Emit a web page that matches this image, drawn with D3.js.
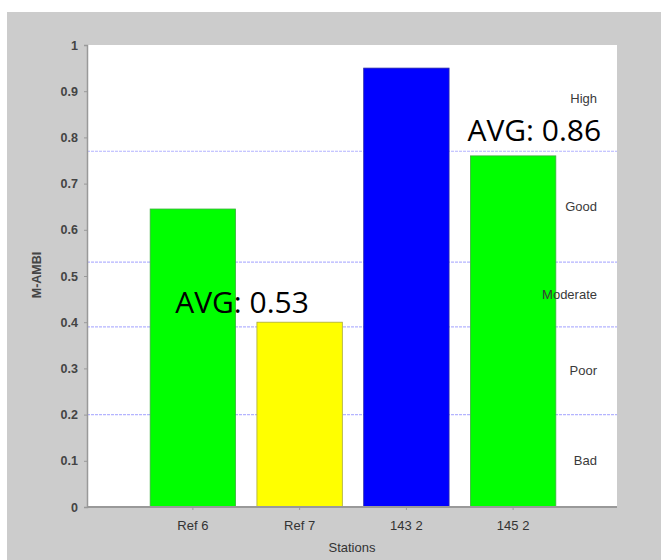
<!DOCTYPE html>
<html><head><meta charset="utf-8">
<script src="https://cdn.jsdelivr.net/npm/d3@7"></script>
<style>body{margin:0;background:#fff}svg{display:block}</style>
</head><body>
<script>
const stations = ["Ref 6", "Ref 7", "143 2", "145 2"];
const values = [0.645, 0.40, 0.95, 0.76];
const barColors = ["#00ff00", "#ffff00", "#0000ff", "#00ff00"];
const barStrokes = ["#3fae3f", "#a9a93a", "#2b2ba8", "#3fae3f"];
const thresholds = [0.77, 0.53, 0.39, 0.2];
const classNames = ["High", "Good", "Moderate", "Poor", "Bad"];
const classBounds = [1, 0.77, 0.53, 0.39, 0.2, 0];
const yTicks = [0, 0.1, 0.2, 0.3, 0.4, 0.5, 0.6, 0.7, 0.8, 0.9, 1];
const annotationTexts = ["AVG: 0.53", "AVG: 0.86"];
const annotationStations = ["Ref 6", "145 2"];
const annotationLevels = [0.42, 0.792];

const W = 661, H = 560;
const svg = d3.select("body").append("svg").attr("width", W).attr("height", H);
svg.append("rect").attr("x", 7).attr("y", 12).attr("width", W - 7).attr("height", H - 12).attr("fill", "#cccccc");

const pL = 87, pR = 617, pT = 45, pB = 507;
svg.append("rect").attr("x", pL).attr("y", pT).attr("width", pR - pL).attr("height", pB - pT).attr("fill", "#ffffff");

const y = d3.scaleLinear().domain([0, 1]).range([pB, pT]);
const x = d3.scaleBand().domain(stations).range([139.5, 566.5]).paddingInner(0.2).paddingOuter(0.1);

// threshold lines
svg.selectAll(".thr").data(thresholds).enter().append("line")
  .attr("x1", pL).attr("x2", pR)
  .attr("y1", d => y(d)).attr("y2", d => y(d))
  .attr("stroke", "#b4b4ff").attr("stroke-width", 1.2).attr("stroke-dasharray", "3,1");

// bars
svg.selectAll(".bar").data(values).enter().append("rect")
  .attr("x", (d, i) => x(stations[i]))
  .attr("width", x.bandwidth())
  .attr("y", d => y(d))
  .attr("height", d => y(0) - y(d))
  .attr("fill", (d, i) => barColors[i])
  .attr("stroke", (d, i) => barStrokes[i]).attr("stroke-width", 0.8);

// class labels
const mids = classNames.map((c, i) => (classBounds[i] + classBounds[i + 1]) / 2);
svg.selectAll(".cls").data(classNames).enter().append("text")
  .attr("x", 597).attr("y", (d, i) => y(mids[i]))
  .attr("dy", "0.35em").attr("text-anchor", "end")
  .attr("font-family", "Liberation Sans, Arial, sans-serif").attr("font-size", 13)
  .attr("fill", "#3a3a3a").text(d => d);

// axes
const yAxis = d3.axisLeft(y).tickValues(yTicks).tickSize(3).tickPadding(6).tickFormat(d3.format("~g"));
const gy = svg.append("g").attr("transform", `translate(${pL},0)`).call(yAxis);
gy.select(".domain").attr("stroke", "#999").attr("stroke-width", 1.5);
gy.selectAll(".tick line").attr("stroke", "#999");
gy.selectAll("text").attr("font-family", "Liberation Sans, Arial, sans-serif").attr("font-size", 12.5).attr("font-weight", "bold").attr("fill", "#444");

const xAxis = d3.axisBottom(x).tickSize(3).tickPadding(8);
const gx = svg.append("g").attr("transform", `translate(0,${pB})`).call(xAxis);
gx.select(".domain").attr("d", `M${pL},0H${pR}`).attr("stroke", "#999").attr("stroke-width", 2);
gx.selectAll(".tick line").attr("stroke", "#999");
gx.selectAll("text").attr("font-family", "Liberation Sans, Arial, sans-serif").attr("font-size", 13).attr("fill", "#333").attr("dy", "0.9em");

svg.append("text").attr("x", 352).attr("y", 552).attr("text-anchor", "middle")
  .attr("font-family", "Liberation Sans, Arial, sans-serif").attr("font-size", 13).attr("fill", "#333").text("Stations");
svg.append("text").attr("transform", "translate(41,275) rotate(-90)").attr("text-anchor", "middle")
  .attr("font-family", "Liberation Sans, Arial, sans-serif").attr("font-size", 12.5).attr("font-weight", "bold").attr("fill", "#444").text("M-AMBI");

// annotations
const annOffsets = [25, -3];
svg.selectAll(".ann").data(annotationTexts).enter().append("text")
  .attr("x", (d, i) => x(annotationStations[i]) + annOffsets[i])
  .attr("y", (d, i) => y(annotationLevels[i]))
  .attr("font-family", "Open Sans, Noto Sans, sans-serif").attr("font-size", 30)
  .attr("fill", "#000").text(d => d);
</script>
</body></html>
